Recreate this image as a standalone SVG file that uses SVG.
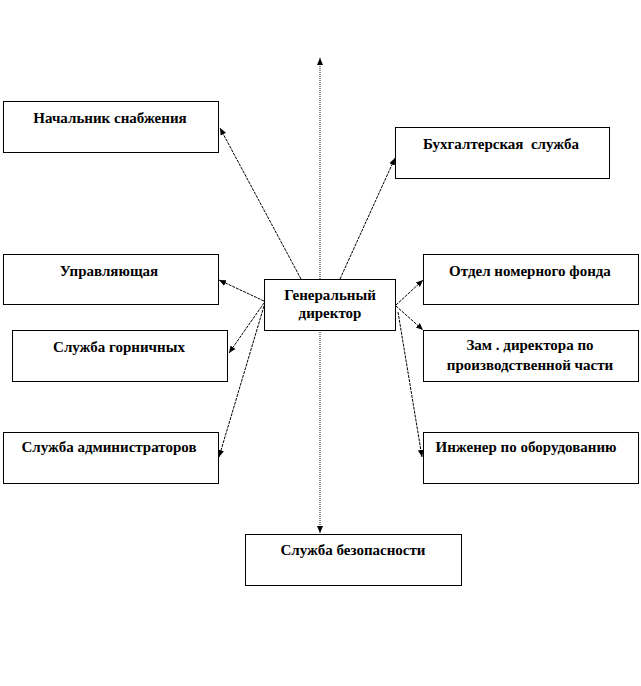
<svg xmlns="http://www.w3.org/2000/svg" width="641" height="686" viewBox="0 0 641 686">
<style>
.box{fill:#fff;stroke:#000;stroke-width:1}
.t{font-family:"Liberation Serif","Times New Roman",serif;font-weight:bold;font-size:15px;fill:#000;text-anchor:middle}
.c{fill:none;stroke:#000;stroke-width:1;stroke-dasharray:3,1}
.v{fill:none;stroke:#444;stroke-width:1.2;stroke-dasharray:1,1}
</style>
<defs>
<marker id="ah" markerWidth="8" markerHeight="8" refX="7" refY="4" orient="auto-start-reverse" markerUnits="userSpaceOnUse">
<path d="M0,1 L7,4 L0,7 Z" fill="#000"/>
</marker>
</defs>
<rect width="641" height="686" fill="#fff"/>
<g id="connectors">
<line class="v" x1="320" y1="58" x2="320" y2="533" marker-start="url(#ah)" marker-end="url(#ah)"/>
<line class="c" x1="301" y1="279" x2="220" y2="128" marker-end="url(#ah)"/>
<line class="c" x1="340" y1="279" x2="395" y2="158" marker-end="url(#ah)"/>
<line class="c" x1="264" y1="301" x2="219" y2="280" marker-end="url(#ah)"/>
<line class="c" x1="264" y1="303" x2="229" y2="353" marker-end="url(#ah)"/>
<line class="c" x1="264" y1="306" x2="219" y2="457" marker-end="url(#ah)"/>
<line class="c" x1="396" y1="305" x2="423" y2="280" marker-end="url(#ah)"/>
<line class="c" x1="396" y1="306" x2="423" y2="330" marker-end="url(#ah)"/>
<line class="c" x1="398" y1="312" x2="422" y2="457" marker-end="url(#ah)"/>
</g>
<g id="n-snab"><rect class="box" x="3.5" y="101.5" width="215" height="51"/><text class="t" x="110" y="123">Начальник снабжения</text></g>
<g id="n-buh"><rect class="box" x="395.5" y="127.5" width="214" height="51"/><text class="t" x="501" y="149">Бухгалтерская&#160; служба</text></g>
<g id="n-upr"><rect class="box" x="3.5" y="254.5" width="215" height="50"/><text class="t" x="109" y="276">Управляющая</text></g>
<g id="n-gorn"><rect class="box" x="12.5" y="330.5" width="215" height="51"/><text class="t" x="119" y="352">Служба горничных</text></g>
<g id="n-adm"><rect class="box" x="3.5" y="432.5" width="215" height="51"/><text class="t" x="109" y="452">Служба администраторов</text></g>
<g id="n-gen"><rect class="box" x="264.5" y="279.5" width="131" height="51"/><text class="t" x="330" y="300">Генеральный</text><text class="t" x="330" y="318">директор</text></g>
<g id="n-otdel"><rect class="box" x="423.5" y="254.5" width="215" height="50"/><text class="t" x="530" y="276">Отдел номерного фонда</text></g>
<g id="n-zam"><rect class="box" x="423.5" y="330.5" width="215" height="51"/><text class="t" x="530" y="350">Зам . директора по</text><text class="t" x="530" y="370">производственной части</text></g>
<g id="n-inzh"><rect class="box" x="423.5" y="432.5" width="215" height="51"/><text class="t" x="526" y="452">Инженер по оборудованию</text></g>
<g id="n-bez"><rect class="box" x="245.5" y="534.5" width="216" height="51"/><text class="t" x="353" y="555">Служба безопасности</text></g>
</svg>
